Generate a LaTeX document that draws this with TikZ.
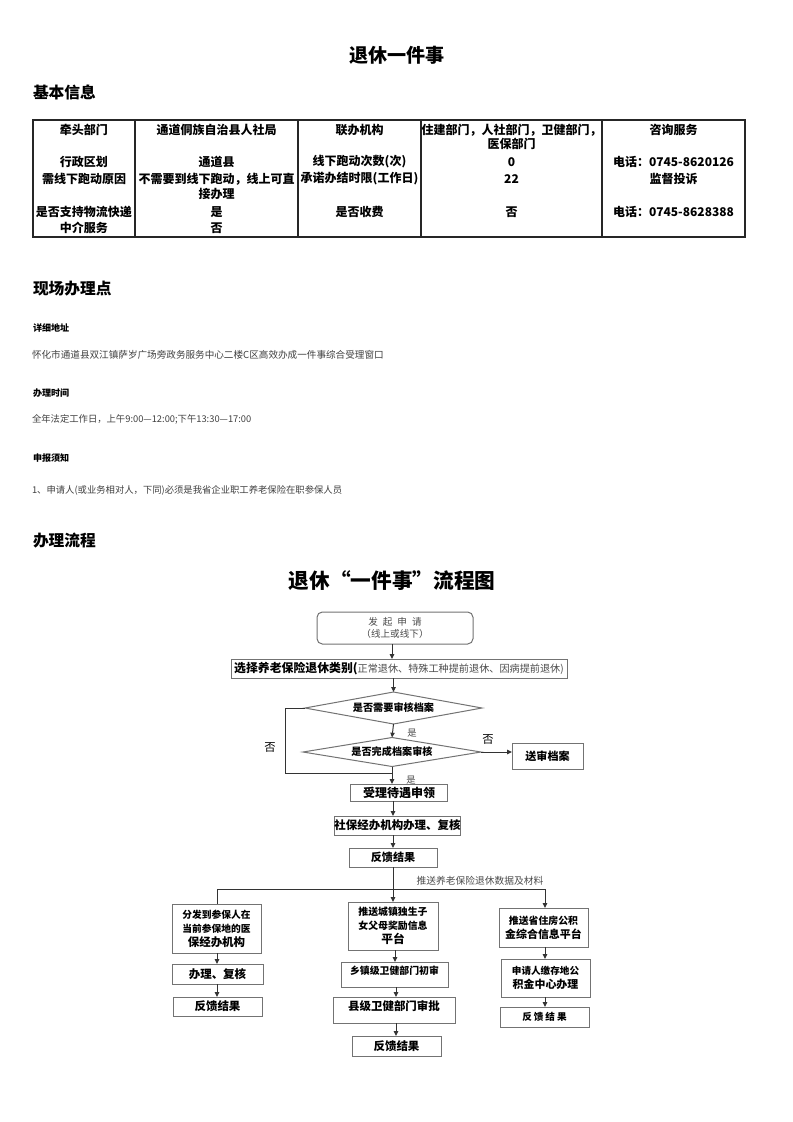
\documentclass[tikz,border=0pt]{standalone}
\usepackage{fontspec}
\setmainfont{Noto Sans CJK SC}
\usetikzlibrary{shapes.geometric,arrows.meta}
\newdimen\px \px=0.75pt
\newcommand\fsz[2]{\fontsize{#1pt}{#2pt}\selectfont}
\begin{document}
\begin{tikzpicture}[x=0.75pt,y=-0.75pt,
  every node/.style={inner sep=0pt,outer sep=0pt},
  tbl/.style={line width=0.8pt,draw=black!85},
  tt/.style={font=\fsz{9}{11}\bfseries},
  h1/.style={font=\fsz{14.3}{16}\bfseries},
  h2/.style={font=\fsz{11.8}{14}\bfseries,anchor=west},
  lab/.style={font=\fsz{6.8}{8}\bfseries,anchor=west},
  txt/.style={font=\fsz{7}{8},text=black!75,anchor=west},
  fbox/.style={draw=black!55,line width=0.75pt,align=center,font=\fsz{7.5}{10.5}\bfseries},
  dia/.style={draw=black!55,line width=0.75pt,shape=diamond,aspect=5.5,font=\fsz{7.6}{9}\bfseries},
  arr/.style={line width=0.75pt,draw=black!80,-{Triangle[length=3.6pt,width=3.2pt]}},
  ln/.style={line width=0.75pt,draw=black!80},
  yn/.style={font=\fsz{7}{8},text=black!70},
  no/.style={font=\fsz{8.5}{10}},
]
\fill[white] (0,0) rectangle (793,1122);
\useasboundingbox (0,0) rectangle (793,1122);

% ---- header
\node[h1] (title) at (397,55) {退休一件事};
\node[h2] (basic) at (33,92) {基本信息};

% ---- table
\draw[tbl] (33,120) rectangle (745,237);
\foreach \x in {135,298,421,602} \draw[tbl] (\x,120) -- (\x,237);
\node[tt] (a1) at (84,130) {牵头部门};
\node[tt] (b1) at (216.5,130) {通道侗族自治县人社局};
\node[tt] (c1) at (359.5,130) {联办机构};
\node[tt,align=center] (d1t) at (511.5,137) {住建部门，人社部门，卫健部门，\\医保部门};
\node[tt] (e1) at (673.5,130) {咨询服务};
\node[tt] (a2) at (84,162) {行政区划};
\node[tt] (b2) at (216.5,162) {通道县};
\node[tt] (c2) at (359.5,162) {线下跑动次数(次)};
\node[tt] (d2t) at (511.5,162) {0};
\node[tt] (e2) at (673.5,162) {电话：0745-8620126};
\node[tt] (a3) at (84,179) {需线下跑动原因};
\node[tt,align=center] (b3) at (216.5,186.5) {不需要到线下跑动，线上可直\\接办理};
\node[tt] (c3) at (359.5,179) {承诺办结时限(工作日)};
\node[tt] (d3t) at (511.5,179) {22};
\node[tt] (e3) at (673.5,179) {监督投诉};
\node[tt] (a4) at (84,212) {是否支持物流快递};
\node[tt] (b4) at (216.5,212) {是};
\node[tt] (c4) at (359.5,212) {是否收费};
\node[tt] (d4t) at (511.5,212) {否};
\node[tt] (e4) at (673.5,212) {电话：0745-8628388};
\node[tt] (a5) at (84,228) {中介服务};
\node[tt] (b5) at (216.5,228) {否};

% ---- on-site section
\node[h2] (site) at (33,289) {现场办理点};
\node[lab] (addrh) at (33,328) {详细地址};
\node[txt,font=\fsz{7.2}{8}] (addr) at (32,355) {怀化市通道县双江镇萨岁广场旁政务服务中心二楼C区高效办成一件事综合受理窗口};
\node[lab] (timeh) at (33,393) {办理时间};
\node[txt] (time) at (32,419) {全年法定工作日，上午9:00—12:00;下午13:30—17:00};
\node[lab] (noteh) at (33,458) {申报须知};
\node[txt] (note) at (32,490) {1、申请人(或业务相对人，下同)必须是我省企业职工养老保险在职参保人员};
\node[h2] (proc) at (33,541) {办理流程};

% ---- flowchart
\node[font=\fsz{15.5}{18}\bfseries] (ftitle) at (392,581) {退休“一件事”流程图};

\node[fbox,rounded corners=4pt,minimum width=156\px,minimum height=32\px,font=\fsz{7.2}{9.5},text=black!70] (start) at (395,628)
  {发\hspace{5\px}起\hspace{5\px}申\hspace{5\px}请\\（线上或线下）};
\node[fbox,minimum width=336\px,minimum height=19\px] (sel) at (399,668.5)
  {{\fsz{8.9}{10}\bfseries 选择养老保险退休类别(}{\fsz{7.6}{10}\mdseries\color{black!70}正常退休、特殊工种提前退休、因病提前退休)}};
\node[dia,minimum width=177\px,minimum height=32\px] (q1) at (393.5,708) {是否需要审核档案};
\node[dia,minimum width=178\px,minimum height=29\px] (q2) at (392,752) {是否完成档案审核};
\node[fbox,minimum width=71\px,minimum height=26\px,font=\fsz{8.3}{10}\bfseries] (review) at (547.5,756) {送审档案};
\node[fbox,minimum width=97\px,minimum height=17\px,font=\fsz{9}{10}\bfseries] (accept) at (399,792.5) {受理待遇申领};
\node[fbox,minimum width=125\px,minimum height=19\px,font=\fsz{8.6}{10}\bfseries] (handle) at (397.5,825.5) {社保经办机构办理、复核};
\node[fbox,minimum width=88\px,minimum height=19\px,font=\fsz{8.3}{10}\bfseries] (fb) at (393,857.5) {反馈结果};

\coordinate (loopA) at (285,708);
\coordinate (loopB) at (285,773);
\coordinate (loopC) at (393,773);
\coordinate (split) at (393,889);
\coordinate (splitL) at (217,889);
\coordinate (splitR) at (545,889);

\node[yn] (yes1) at (412,733) {是};
\node[yn] (yes2) at (411,780) {是};
\node[no] (no1) at (270,748) {否};
\node[no] (no2) at (488,740) {否};
\node[yn,font=\fsz{7.3}{8}] (push) at (480,881) {推送养老保险退休数据及材料};

% left branch
\node[fbox,minimum width=89\px,minimum height=49\px,font=\fsz{7.3}{10.5}\bfseries] (L1) at (216.5,928.5)
  {分发到参保人在\\当前参保地的医\\{\fsz{8.6}{10.5}\bfseries 保经办机构}};
\node[fbox,minimum width=91\px,minimum height=20\px,font=\fsz{8.6}{10}\bfseries] (L2) at (217.5,974) {办理、复核};
\node[fbox,minimum width=89\px,minimum height=19\px,font=\fsz{8.6}{10}\bfseries] (L3) at (217.5,1006.5) {反馈结果};
% middle branch
\node[fbox,minimum width=90\px,minimum height=48\px,font=\fsz{7.4}{10.5}\bfseries] (M1) at (393,926)
  {推送城镇独生子\\女父母奖励信息\\{\fsz{8.8}{10.5}\bfseries 平台}};
\node[fbox,minimum width=107\px,minimum height=25\px,text depth=8\px,font=\fsz{7.4}{10}\bfseries] (M2) at (394.5,974.5) {乡镇级卫健部门初审};
\node[fbox,minimum width=122\px,minimum height=26\px,text depth=9\px,font=\fsz{8.6}{10}\bfseries] (M3) at (394,1010) {县级卫健部门审批};
\node[fbox,minimum width=89\px,minimum height=20\px,font=\fsz{8.6}{10}\bfseries] (M4) at (396.5,1046) {反馈结果};
% right branch
\node[fbox,minimum width=89\px,minimum height=39\px,font=\fsz{7.4}{10.5}\bfseries] (R1) at (543.5,927.5)
  {推送省住房公积\\{\fsz{8.2}{10.5}\bfseries 金综合信息平台}};
\node[fbox,minimum width=89\px,minimum height=38\px,font=\fsz{7.2}{10.5}\bfseries] (R2) at (545.5,978)
  {申请人缴存地公\\{\fsz{8.2}{10.5}\bfseries 积金中心办理}};
\node[fbox,minimum width=89\px,minimum height=20\px,font=\fsz{7.2}{10}\bfseries] (R3) at (544.5,1017) {反\hspace{2\px}馈\hspace{2\px}结\hspace{2\px}果};

% connectors
\draw[arr] (start.south -| 392,0) -- (sel.north -| 392,0);
\draw[arr] (sel.south -| q1.north) -- (q1.north);
\draw[arr] (q1.south) -- (q2.north);
\draw[arr] (q2.south) -- (q2.south |- accept.north);
\draw[ln] (q1.west) -- (loopA) -- (loopB) -- (loopC);
\draw[arr] (q2.east) -- (q2.east -| review.west);
\draw[arr] (accept.south -| 393,0) -- (handle.north -| 393,0);
\draw[arr] (handle.south -| 393,0) -- (fb.north -| 393,0);
\draw[ln] (fb.south) -- (split);
\draw[ln] (splitL) -- (splitR);
\draw[ln] (splitL) -- (splitL |- L1.north);
\draw[arr] (split) -- (split |- M1.north);
\draw[arr] (splitR) -- (splitR |- R1.north);
\draw[arr] (L1.south -| 217,0) -- (L2.north -| 217,0);
\draw[arr] (L2.south -| 217,0) -- (L3.north -| 217,0);
\draw[arr] (M1.south -| 395,0) -- (M2.north -| 395,0);
\draw[arr] (M2.south -| 396,0) -- (M3.north -| 396,0);
\draw[arr] (M3.south -| 396,0) -- (M4.north -| 396,0);
\draw[arr] (R1.south -| 545,0) -- (R2.north -| 545,0);
\draw[arr] (R2.south -| 545,0) -- (R3.north -| 545,0);
\end{tikzpicture}
\end{document}
